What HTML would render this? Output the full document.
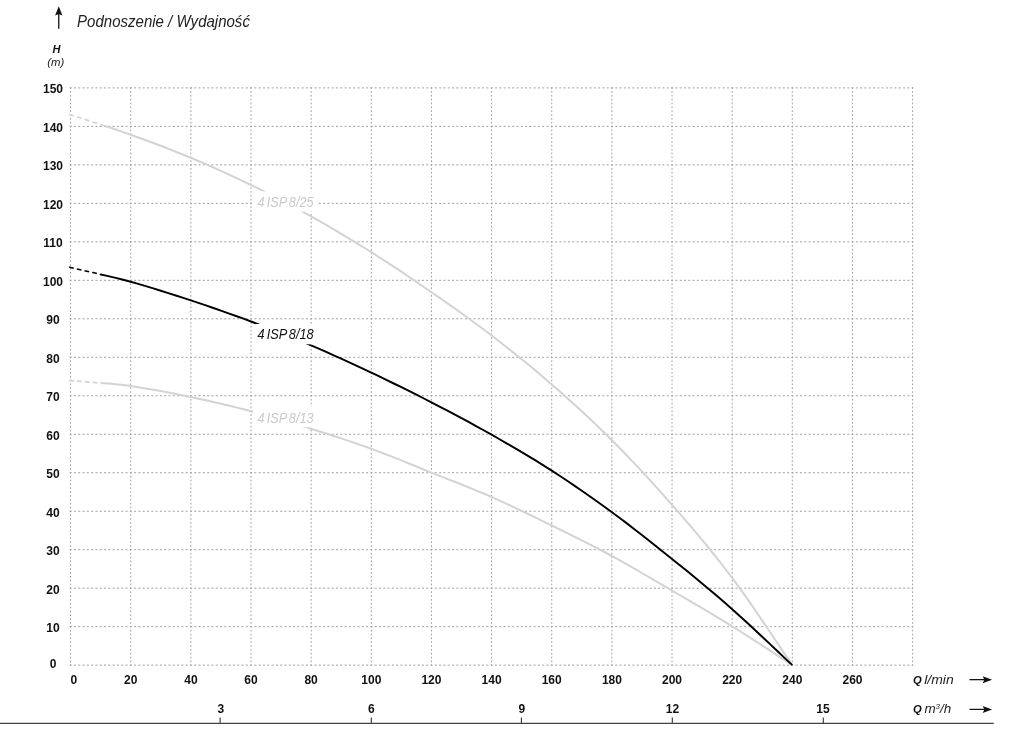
<!DOCTYPE html>
<html lang="pl"><head><meta charset="utf-8"><title>Podnoszenie / Wydajność</title>
<style>html,body{margin:0;padding:0;background:#fff;}body{width:1024px;height:732px;overflow:hidden;}svg{display:block;filter:grayscale(1);}</style></head><body>
<svg width="1024" height="732" viewBox="0 0 1024 732">
<rect width="1024" height="732" fill="#fff"/>
<g stroke="#9e9e9e" stroke-width="1" fill="none">
<line x1="70.57" y1="87.20" x2="70.57" y2="665.75" stroke-dasharray="1.7 2.148"/>
<line x1="130.71" y1="87.20" x2="130.71" y2="665.75" stroke-dasharray="1.7 2.148"/>
<line x1="190.86" y1="87.20" x2="190.86" y2="665.75" stroke-dasharray="1.7 2.148"/>
<line x1="251.00" y1="87.20" x2="251.00" y2="665.75" stroke-dasharray="1.7 2.148"/>
<line x1="311.15" y1="87.20" x2="311.15" y2="665.75" stroke-dasharray="1.7 2.148"/>
<line x1="371.30" y1="87.20" x2="371.30" y2="665.75" stroke-dasharray="1.7 2.148"/>
<line x1="431.44" y1="87.20" x2="431.44" y2="665.75" stroke-dasharray="1.7 2.148"/>
<line x1="491.58" y1="87.20" x2="491.58" y2="665.75" stroke-dasharray="1.7 2.148"/>
<line x1="551.73" y1="87.20" x2="551.73" y2="665.75" stroke-dasharray="1.7 2.148"/>
<line x1="611.88" y1="87.20" x2="611.88" y2="665.75" stroke-dasharray="1.7 2.148"/>
<line x1="672.02" y1="87.20" x2="672.02" y2="665.75" stroke-dasharray="1.7 2.148"/>
<line x1="732.16" y1="87.20" x2="732.16" y2="665.75" stroke-dasharray="1.7 2.148"/>
<line x1="792.31" y1="87.20" x2="792.31" y2="665.75" stroke-dasharray="1.7 2.148"/>
<line x1="852.45" y1="87.20" x2="852.45" y2="665.75" stroke-dasharray="1.7 2.148"/>
<line x1="912.60" y1="87.20" x2="912.60" y2="665.75" stroke-dasharray="1.7 2.148"/>
<line x1="69.67" y1="665.15" x2="913.20" y2="665.15" stroke-dasharray="2.0 2.296"/>
<line x1="69.67" y1="626.67" x2="913.20" y2="626.67" stroke-dasharray="2.0 2.296"/>
<line x1="69.67" y1="588.18" x2="913.20" y2="588.18" stroke-dasharray="2.0 2.296"/>
<line x1="69.67" y1="549.70" x2="913.20" y2="549.70" stroke-dasharray="2.0 2.296"/>
<line x1="69.67" y1="511.22" x2="913.20" y2="511.22" stroke-dasharray="2.0 2.296"/>
<line x1="69.67" y1="472.73" x2="913.20" y2="472.73" stroke-dasharray="2.0 2.296"/>
<line x1="69.67" y1="434.25" x2="913.20" y2="434.25" stroke-dasharray="2.0 2.296"/>
<line x1="69.67" y1="395.77" x2="913.20" y2="395.77" stroke-dasharray="2.0 2.296"/>
<line x1="69.67" y1="357.28" x2="913.20" y2="357.28" stroke-dasharray="2.0 2.296"/>
<line x1="69.67" y1="318.80" x2="913.20" y2="318.80" stroke-dasharray="2.0 2.296"/>
<line x1="69.67" y1="280.32" x2="913.20" y2="280.32" stroke-dasharray="2.0 2.296"/>
<line x1="69.67" y1="241.83" x2="913.20" y2="241.83" stroke-dasharray="2.0 2.296"/>
<line x1="69.67" y1="203.35" x2="913.20" y2="203.35" stroke-dasharray="2.0 2.296"/>
<line x1="69.67" y1="164.87" x2="913.20" y2="164.87" stroke-dasharray="2.0 2.296"/>
<line x1="69.67" y1="126.38" x2="913.20" y2="126.38" stroke-dasharray="2.0 2.296"/>
<line x1="69.67" y1="87.90" x2="913.20" y2="87.90" stroke-dasharray="2.0 2.296"/>
</g>
<path d="M69.1,114.2 L70.6,114.7 L78.1,117.2 L85.6,119.6 L93.1,122.1 L100.6,124.5 L105.0,126.0" stroke="#d3d3d3" stroke-width="1.7" fill="none" stroke-dasharray="4.9 3.3"/>
<path d="M105.0,126.0 L108.2,127.0 L115.7,129.5 L123.2,132.1 L130.7,134.8 L138.2,137.5 L145.8,140.2 L153.3,143.0 L160.8,145.8 L168.3,148.7 L175.8,151.7 L183.3,154.7 L190.9,157.8 L198.4,161.0 L205.9,164.2 L213.4,167.5 L220.9,170.9 L228.5,174.3 L236.0,177.8 L243.5,181.4 L251.0,185.0 L258.5,188.7 L266.0,192.5 L273.6,196.3 L281.1,200.2 L288.6,204.1 L296.1,208.1 L303.6,212.2 L311.1,216.4 L318.7,220.6 L326.2,224.9 L333.7,229.3 L341.2,233.8 L348.7,238.3 L356.3,242.9 L363.8,247.5 L371.3,252.2 L378.8,257.0 L386.3,261.8 L393.8,266.7 L401.4,271.7 L408.9,276.8 L416.4,281.9 L423.9,287.0 L431.4,292.2 L439.0,297.4 L446.5,302.7 L454.0,307.9 L461.5,313.3 L469.0,318.7 L476.5,324.2 L484.1,329.8 L491.6,335.5 L499.1,341.3 L506.6,347.2 L514.1,353.1 L521.7,359.2 L529.2,365.3 L536.7,371.6 L544.2,378.0 L551.7,384.4 L559.2,391.0 L566.8,397.7 L574.3,404.5 L581.8,411.3 L589.3,418.3 L596.8,425.5 L604.4,432.8 L611.9,440.2 L619.4,447.8 L626.9,455.5 L634.4,463.4 L641.9,471.4 L649.5,479.6 L657.0,487.8 L664.5,496.3 L672.0,504.8 L679.5,513.4 L687.1,522.1 L694.6,530.9 L702.1,539.9 L709.6,549.0 L717.1,558.4 L724.6,568.0 L732.2,577.9 L739.7,588.1 L747.2,598.7 L754.7,609.5 L762.2,620.6 L769.8,631.8 L777.3,643.0 L784.8,654.1 L792.3,665.1" stroke="#d3d3d3" stroke-width="2.0" fill="none"/>
<path d="M69.1,380.5 L70.6,380.6 L78.1,381.2 L85.6,381.8 L93.1,382.4 L100.6,383.0" stroke="#d3d3d3" stroke-width="1.7" fill="none" stroke-dasharray="4.8 3.1"/>
<path d="M100.6,383.0 L100.6,383.0 L108.2,383.6 L115.7,384.3 L123.2,385.1 L130.7,386.1 L138.2,387.2 L145.8,388.4 L153.3,389.7 L160.8,391.1 L168.3,392.5 L175.8,394.0 L183.3,395.5 L190.9,397.1 L198.4,398.7 L205.9,400.3 L213.4,402.0 L220.9,403.7 L228.5,405.5 L236.0,407.4 L243.5,409.2 L251.0,411.2 L258.5,413.2 L266.0,415.3 L273.6,417.4 L281.1,419.6 L288.6,421.9 L296.1,424.1 L303.6,426.5 L311.1,428.8 L318.7,431.2 L326.2,433.5 L333.7,436.0 L341.2,438.4 L348.7,440.9 L356.3,443.5 L363.8,446.1 L371.3,448.8 L378.8,451.6 L386.3,454.5 L393.8,457.4 L401.4,460.4 L408.9,463.5 L416.4,466.5 L423.9,469.6 L431.4,472.6 L439.0,475.6 L446.5,478.6 L454.0,481.5 L461.5,484.5 L469.0,487.5 L476.5,490.6 L484.1,493.7 L491.6,497.0 L499.1,500.4 L506.6,503.8 L514.1,507.3 L521.7,510.9 L529.2,514.5 L536.7,518.1 L544.2,521.8 L551.7,525.5 L559.2,529.2 L566.8,532.9 L574.3,536.6 L581.8,540.4 L589.3,544.2 L596.8,548.0 L604.4,552.0 L611.9,556.0 L619.4,560.1 L626.9,564.3 L634.4,568.6 L641.9,573.0 L649.5,577.4 L657.0,581.8 L664.5,586.2 L672.0,590.6 L679.5,595.0 L687.1,599.4 L694.6,603.8 L702.1,608.2 L709.6,612.6 L717.1,617.1 L724.6,621.7 L732.2,626.3 L739.7,631.0 L747.2,635.8 L754.7,640.6 L762.2,645.5 L769.8,650.4 L777.3,655.4 L784.8,660.3 L792.3,665.1" stroke="#d3d3d3" stroke-width="2.0" fill="none"/>
<path d="M69.1,267.1 L70.6,267.4 L78.1,269.2 L85.6,270.9 L93.1,272.6 L100.6,274.3" stroke="#000" stroke-width="1.5" fill="none" stroke-dasharray="4.8 3.1"/>
<path d="M100.6,274.3 L100.6,274.4 L108.2,276.1 L115.7,277.9 L123.2,279.8 L130.7,281.8 L138.2,283.9 L145.8,286.1 L153.3,288.4 L160.8,290.7 L168.3,293.1 L175.8,295.5 L183.3,297.9 L190.9,300.4 L198.4,302.9 L205.9,305.4 L213.4,308.0 L220.9,310.6 L228.5,313.3 L236.0,316.0 L243.5,318.7 L251.0,321.5 L258.5,324.3 L266.0,327.2 L273.6,330.1 L281.1,333.1 L288.6,336.1 L296.1,339.1 L303.6,342.2 L311.1,345.4 L318.7,348.6 L326.2,351.9 L333.7,355.3 L341.2,358.7 L348.7,362.1 L356.3,365.6 L363.8,369.1 L371.3,372.6 L378.8,376.2 L386.3,379.9 L393.8,383.5 L401.4,387.2 L408.9,390.9 L416.4,394.7 L423.9,398.5 L431.4,402.4 L439.0,406.3 L446.5,410.2 L454.0,414.2 L461.5,418.2 L469.0,422.2 L476.5,426.3 L484.1,430.5 L491.6,434.7 L499.1,439.0 L506.6,443.3 L514.1,447.6 L521.7,452.1 L529.2,456.6 L536.7,461.1 L544.2,465.8 L551.7,470.6 L559.2,475.5 L566.8,480.5 L574.3,485.6 L581.8,490.7 L589.3,496.0 L596.8,501.3 L604.4,506.7 L611.9,512.2 L619.4,517.8 L626.9,523.4 L634.4,529.2 L641.9,535.0 L649.5,540.9 L657.0,546.9 L664.5,552.9 L672.0,558.9 L679.5,565.0 L687.1,571.1 L694.6,577.3 L702.1,583.5 L709.6,589.8 L717.1,596.1 L724.6,602.6 L732.2,609.2 L739.7,615.9 L747.2,622.8 L754.7,629.8 L762.2,636.8 L769.8,643.9 L777.3,651.0 L784.8,658.1 L792.3,665.1" stroke="#000" stroke-width="1.95" fill="none"/>
<rect x="253" y="191.3" width="65" height="20.299999999999983" fill="#fff"/>
<rect x="253" y="407.0" width="65" height="20.30000000000001" fill="#fff"/>
<rect x="253" y="324.0" width="65" height="20.30000000000001" fill="#fff"/>
<text x="257.4" y="206.7" font-family="'Liberation Sans', Arial, sans-serif" font-size="14.6" font-style="italic" word-spacing="-1.6" fill="#cacaca" textLength="56.3" lengthAdjust="spacingAndGlyphs">4 ISP 8/25</text>
<text x="257.4" y="422.8" font-family="'Liberation Sans', Arial, sans-serif" font-size="14.6" font-style="italic" word-spacing="-1.6" fill="#cacaca" textLength="56.3" lengthAdjust="spacingAndGlyphs">4 ISP 8/13</text>
<text x="257.4" y="339.2" font-family="'Liberation Sans', Arial, sans-serif" font-size="14.6" font-style="italic" word-spacing="-1.6" fill="#111" textLength="56.3" lengthAdjust="spacingAndGlyphs">4 ISP 8/18</text>
<text x="53" y="667.5" font-family="'Liberation Sans', Arial, sans-serif" font-size="12" font-weight="bold" text-anchor="middle" fill="#111">0</text>
<text x="53" y="632.0" font-family="'Liberation Sans', Arial, sans-serif" font-size="12" font-weight="bold" text-anchor="middle" fill="#111">10</text>
<text x="53" y="593.5" font-family="'Liberation Sans', Arial, sans-serif" font-size="12" font-weight="bold" text-anchor="middle" fill="#111">20</text>
<text x="53" y="555.0" font-family="'Liberation Sans', Arial, sans-serif" font-size="12" font-weight="bold" text-anchor="middle" fill="#111">30</text>
<text x="53" y="516.5" font-family="'Liberation Sans', Arial, sans-serif" font-size="12" font-weight="bold" text-anchor="middle" fill="#111">40</text>
<text x="53" y="478.0" font-family="'Liberation Sans', Arial, sans-serif" font-size="12" font-weight="bold" text-anchor="middle" fill="#111">50</text>
<text x="53" y="439.6" font-family="'Liberation Sans', Arial, sans-serif" font-size="12" font-weight="bold" text-anchor="middle" fill="#111">60</text>
<text x="53" y="401.1" font-family="'Liberation Sans', Arial, sans-serif" font-size="12" font-weight="bold" text-anchor="middle" fill="#111">70</text>
<text x="53" y="362.6" font-family="'Liberation Sans', Arial, sans-serif" font-size="12" font-weight="bold" text-anchor="middle" fill="#111">80</text>
<text x="53" y="324.1" font-family="'Liberation Sans', Arial, sans-serif" font-size="12" font-weight="bold" text-anchor="middle" fill="#111">90</text>
<text x="53" y="285.6" font-family="'Liberation Sans', Arial, sans-serif" font-size="12" font-weight="bold" text-anchor="middle" fill="#111">100</text>
<text x="53" y="247.1" font-family="'Liberation Sans', Arial, sans-serif" font-size="12" font-weight="bold" text-anchor="middle" fill="#111">110</text>
<text x="53" y="208.7" font-family="'Liberation Sans', Arial, sans-serif" font-size="12" font-weight="bold" text-anchor="middle" fill="#111">120</text>
<text x="53" y="170.2" font-family="'Liberation Sans', Arial, sans-serif" font-size="12" font-weight="bold" text-anchor="middle" fill="#111">130</text>
<text x="53" y="131.7" font-family="'Liberation Sans', Arial, sans-serif" font-size="12" font-weight="bold" text-anchor="middle" fill="#111">140</text>
<text x="53" y="93.2" font-family="'Liberation Sans', Arial, sans-serif" font-size="12" font-weight="bold" text-anchor="middle" fill="#111">150</text>
<text x="70.6" y="683.5" font-family="'Liberation Sans', Arial, sans-serif" font-size="12" font-weight="bold" fill="#111">0</text>
<text x="130.7" y="683.5" font-family="'Liberation Sans', Arial, sans-serif" font-size="12" font-weight="bold" text-anchor="middle" fill="#111">20</text>
<text x="190.9" y="683.5" font-family="'Liberation Sans', Arial, sans-serif" font-size="12" font-weight="bold" text-anchor="middle" fill="#111">40</text>
<text x="251.0" y="683.5" font-family="'Liberation Sans', Arial, sans-serif" font-size="12" font-weight="bold" text-anchor="middle" fill="#111">60</text>
<text x="311.1" y="683.5" font-family="'Liberation Sans', Arial, sans-serif" font-size="12" font-weight="bold" text-anchor="middle" fill="#111">80</text>
<text x="371.3" y="683.5" font-family="'Liberation Sans', Arial, sans-serif" font-size="12" font-weight="bold" text-anchor="middle" fill="#111">100</text>
<text x="431.4" y="683.5" font-family="'Liberation Sans', Arial, sans-serif" font-size="12" font-weight="bold" text-anchor="middle" fill="#111">120</text>
<text x="491.6" y="683.5" font-family="'Liberation Sans', Arial, sans-serif" font-size="12" font-weight="bold" text-anchor="middle" fill="#111">140</text>
<text x="551.7" y="683.5" font-family="'Liberation Sans', Arial, sans-serif" font-size="12" font-weight="bold" text-anchor="middle" fill="#111">160</text>
<text x="611.9" y="683.5" font-family="'Liberation Sans', Arial, sans-serif" font-size="12" font-weight="bold" text-anchor="middle" fill="#111">180</text>
<text x="672.0" y="683.5" font-family="'Liberation Sans', Arial, sans-serif" font-size="12" font-weight="bold" text-anchor="middle" fill="#111">200</text>
<text x="732.2" y="683.5" font-family="'Liberation Sans', Arial, sans-serif" font-size="12" font-weight="bold" text-anchor="middle" fill="#111">220</text>
<text x="792.3" y="683.5" font-family="'Liberation Sans', Arial, sans-serif" font-size="12" font-weight="bold" text-anchor="middle" fill="#111">240</text>
<text x="852.5" y="683.5" font-family="'Liberation Sans', Arial, sans-serif" font-size="12" font-weight="bold" text-anchor="middle" fill="#111">260</text>
<text x="220.9" y="712.7" font-family="'Liberation Sans', Arial, sans-serif" font-size="12" font-weight="bold" text-anchor="middle" fill="#111">3</text>
<line x1="220.1" y1="717.5" x2="220.1" y2="723.4" stroke="#333" stroke-width="1.1"/>
<text x="371.3" y="712.7" font-family="'Liberation Sans', Arial, sans-serif" font-size="12" font-weight="bold" text-anchor="middle" fill="#111">6</text>
<line x1="371.3" y1="717.5" x2="371.3" y2="723.4" stroke="#333" stroke-width="1.1"/>
<text x="521.8" y="712.7" font-family="'Liberation Sans', Arial, sans-serif" font-size="12" font-weight="bold" text-anchor="middle" fill="#111">9</text>
<line x1="521.4" y1="717.5" x2="521.4" y2="723.4" stroke="#333" stroke-width="1.1"/>
<text x="672.4" y="712.7" font-family="'Liberation Sans', Arial, sans-serif" font-size="12" font-weight="bold" text-anchor="middle" fill="#111">12</text>
<line x1="672.3" y1="717.5" x2="672.3" y2="723.4" stroke="#333" stroke-width="1.1"/>
<text x="822.9" y="712.7" font-family="'Liberation Sans', Arial, sans-serif" font-size="12" font-weight="bold" text-anchor="middle" fill="#111">15</text>
<line x1="823.3" y1="717.5" x2="823.3" y2="723.4" stroke="#333" stroke-width="1.1"/>
<line x1="0" y1="723.4" x2="993.8" y2="723.4" stroke="#444" stroke-width="1.1"/>
<text x="913.1" y="683.8" font-family="'Liberation Sans', Arial, sans-serif" font-size="11.2" font-weight="bold" font-style="italic" fill="#111">Q</text>
<text x="924.2" y="683.8" font-family="'Liberation Sans', Arial, sans-serif" font-size="13.4" font-style="italic" fill="#222" textLength="29.5" lengthAdjust="spacingAndGlyphs">l/min</text>
<text x="913.1" y="713.4" font-family="'Liberation Sans', Arial, sans-serif" font-size="11.2" font-weight="bold" font-style="italic" fill="#111">Q</text>
<text x="924.4" y="713.4" font-family="'Liberation Sans', Arial, sans-serif" font-size="13.4" font-style="italic" fill="#222" textLength="26.9" lengthAdjust="spacingAndGlyphs">m<tspan font-size="8" dy="-4.6">3</tspan><tspan dy="4.6">/h</tspan></text>
<line x1="969.5" y1="679.65" x2="985" y2="679.65" stroke="#111" stroke-width="1.25"/>
<path d="M992.1,679.65 L982.7,676.15 L984.4,679.65 L982.7,683.15 Z" fill="#111"/>
<line x1="969.5" y1="709.4" x2="985" y2="709.4" stroke="#111" stroke-width="1.25"/>
<path d="M992.1,709.4 L982.7,705.9 L984.4,709.4 L982.7,712.9 Z" fill="#111"/>
<line x1="58.75" y1="28.8" x2="58.75" y2="13" stroke="#111" stroke-width="1.3"/>
<path d="M58.75,6.2 L55.1,15.6 L58.75,14 L62.4,15.6 Z" fill="#111"/>
<text x="77.1" y="27" font-family="'Liberation Sans', Arial, sans-serif" font-size="16.2" font-style="italic" fill="#222" textLength="172.8" lengthAdjust="spacingAndGlyphs">Podnoszenie / Wydajność</text>
<text x="56.5" y="53.2" font-family="'Liberation Sans', Arial, sans-serif" font-size="11" font-weight="bold" font-style="italic" text-anchor="middle" fill="#111">H</text>
<text x="55.7" y="65.8" font-family="'Liberation Sans', Arial, sans-serif" font-size="11.4" font-style="italic" text-anchor="middle" fill="#222">(m)</text>
</svg>
</body></html>
